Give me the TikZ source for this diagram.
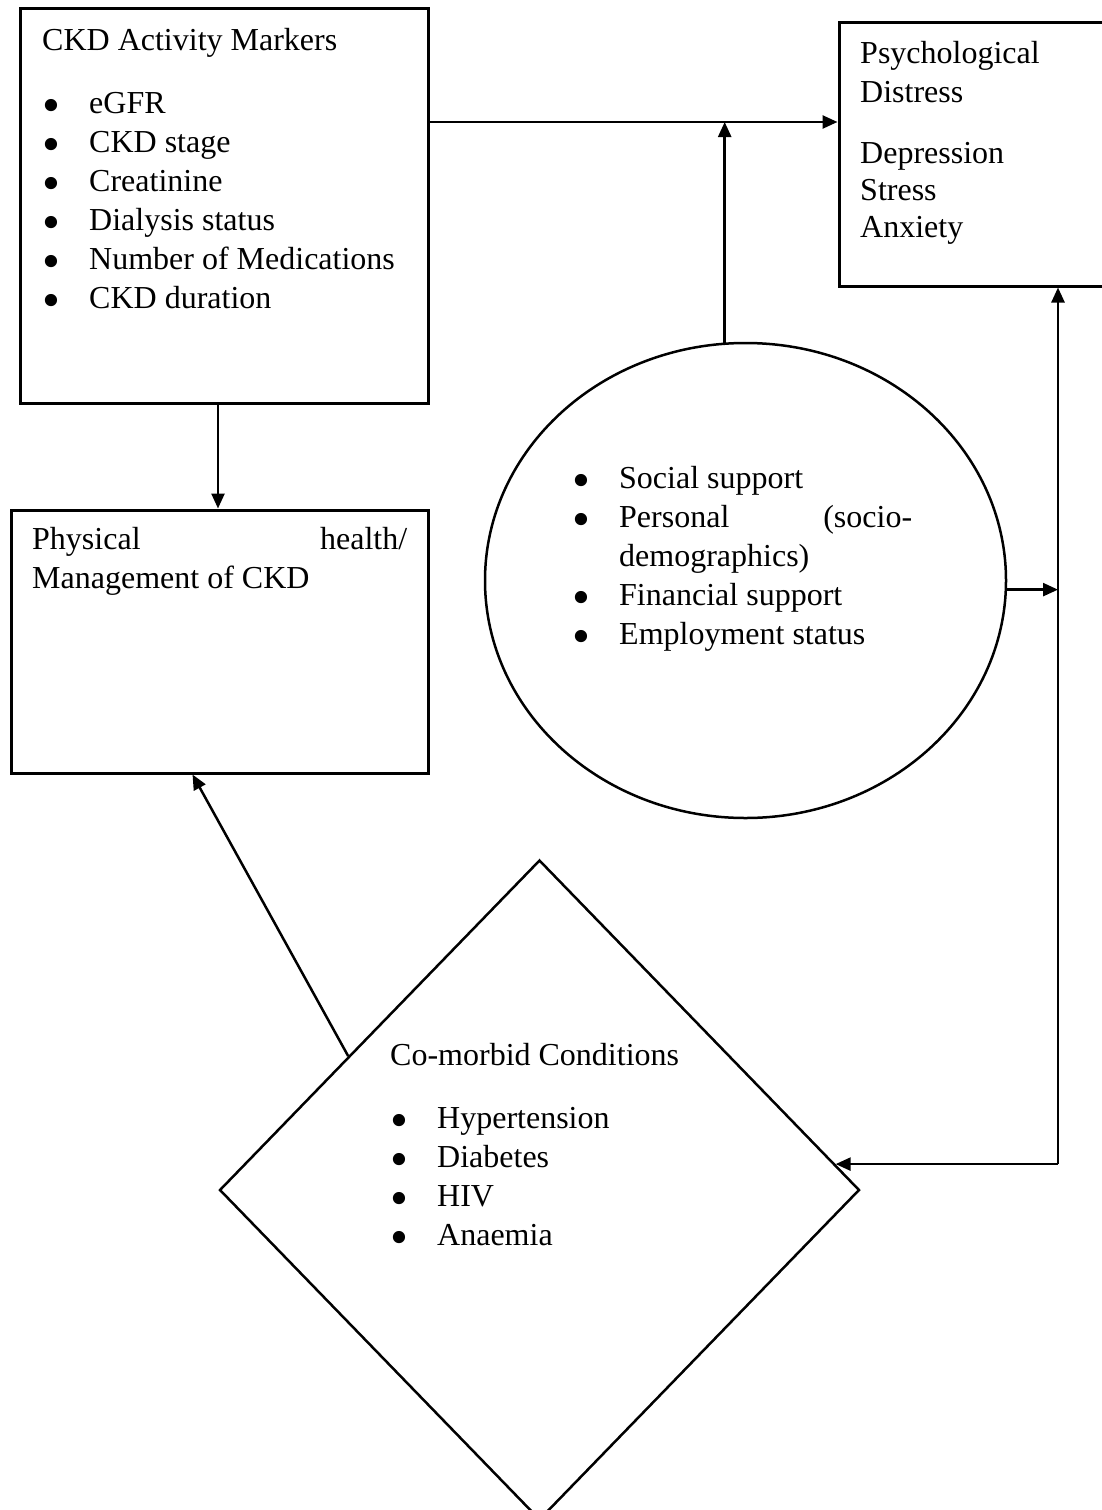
\documentclass[tikz,border=0pt]{standalone}
\usepackage{fontspec}
\setmainfont{Liberation Serif}
\usetikzlibrary{positioning,shapes.geometric,arrows.meta}
\newcommand{\bitem}[1]{\makebox[47pt][l]{\raisebox{-9pt}{\scalebox{1.6}{\textbullet}}}#1}

\begin{document}
\begin{tikzpicture}[x=1pt,y=-1pt,font=\fontsize{32}{39}\selectfont,
    boxnode/.style={draw, rectangle, line width=3pt, inner sep=0pt},
    roundnode/.style={draw, ellipse, line width=2.5pt, inner sep=0pt, minimum width=521pt, minimum height=475pt},
    diamondnode/.style={draw, diamond, line width=2.5pt, inner sep=0pt, minimum width=640pt, minimum height=660pt},
    txt/.style={anchor=base west, inner sep=0pt, align=left},
    arr/.style={-{Triangle[length=15pt,width=13pt]}, line width=2.5pt},]
    \clip (0,0) rectangle (1102,1510);
    % nodes
    \node[boxnode, minimum width=408pt, minimum height=395pt] (markers)  at (224,205.5) {};
    \node[boxnode, minimum width=276pt, minimum height=264pt] (distress) at (977,154)   {};
    \node[boxnode, minimum width=417pt, minimum height=263pt] (physical) [below=104pt of markers.south, xshift=-4.5pt] {};
    \node[roundnode]   (support)   at (745.5,580.5) {};
    \node[diamondnode] (comorbid)  at (539.5,1190)  {};
    % texts (anchored at the last line)
    \node[txt] (markerstext) at (42,308) {CKD Activity Markers\\[24pt]
        \bitem{eGFR}\\ \bitem{CKD stage}\\ \bitem{Creatinine}\\
        \bitem{Dialysis status}\\ \bitem{Number of Medications}\\ \bitem{CKD duration}};
    \node[txt] (distresstext) at (860,237) {Psychological\\ Distress\\[22pt]
        Depression\\[-2pt] Stress\\[-2pt] Anxiety};
    \node[txt] (physicaltext) at (32,588) {\makebox[375pt][l]{Physical\hfill health/}\\ Management of CKD};
    \node[txt] (supporttext) at (572,644) {\bitem{Social support}\\
        \bitem{\makebox[293pt][l]{Personal\hfill (socio-}}\\ \hspace*{47pt}demographics)\\
        \bitem{Financial support}\\ \bitem{Employment status}};
    \node[txt] (comorbidtext) at (390,1245) {Co-morbid Conditions\\[24pt]
        \bitem{Hypertension}\\ \bitem{Diabetes}\\ \bitem{HIV}\\ \bitem{Anaemia}};
    % junctions
    \coordinate (top)  at (725,122);
    \coordinate (rail) at (1058,1164);
    % lines
    \draw[arr] (markers.east |- top) -- (distress.west |- top);
    \draw[arr] (support.95) -- (support.95 |- top);
    \draw[arr] ([xshift=-6pt]markers.south) -- ([xshift=-6pt]markers.south |- physical.north);
    \draw[arr] (support.-2) -- (support.-2 -| rail);
    \draw[arr] (rail) -- (rail |- distress.south);
    \draw[arr] (comorbid.5 -| rail) -- (comorbid.5);
    \draw[arr] (comorbid.145) -- ([xshift=-27pt]physical.south);
\end{tikzpicture}
\end{document}
